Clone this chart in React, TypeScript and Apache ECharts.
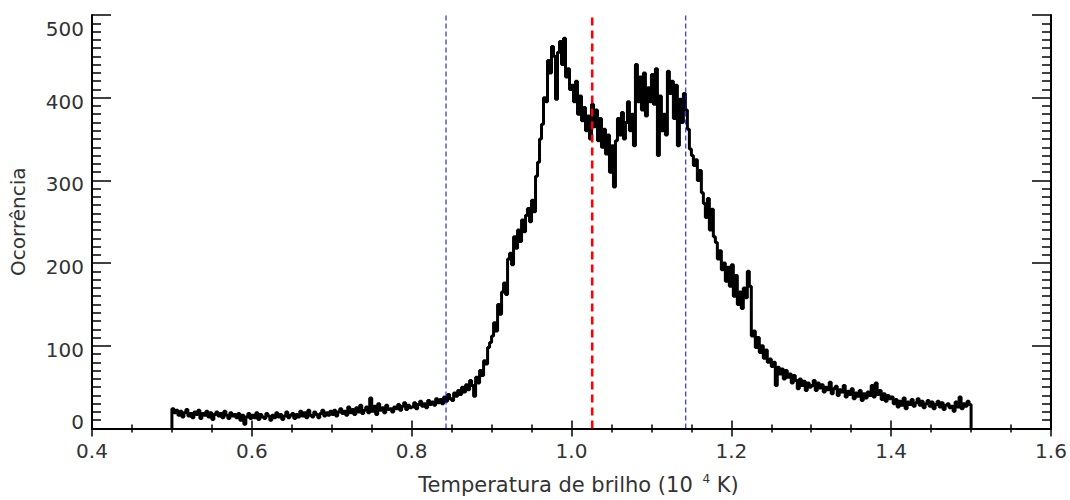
import React, { useEffect, useRef } from "react";
import * as echarts from "echarts";

// Histogram bins: left edge of first bin and bin width (10^4 K)
const binStart = 0.5;
const binWidth = 0.0025;

// Occurrence counts per bin, grouped by 0.1 segments of temperature (40 bins each)
const counts050 = [24, 19, 22, 16, 21, 14, 19, 23, 15, 18, 13, 20, 17, 22, 12, 18, 16, 21, 14, 19, 11, 17, 20, 15, 18, 13, 21, 16, 12, 19, 15, 17, 13, 18, 10, 16, 5, 14, 18, 12];
const counts060 = [16, 13, 19, 11, 17, 14, 12, 18, 15, 10, 16, 13, 19, 14, 17, 11, 15, 20, 13, 16, 18, 12, 17, 14, 21, 15, 19, 13, 22, 16, 14, 20, 17, 13, 18, 22, 15, 19, 16, 21];
const counts070 = [17, 22, 15, 20, 24, 18, 21, 16, 26, 19, 23, 17, 25, 20, 28, 18, 22, 26, 19, 37, 21, 27, 17, 30, 22, 25, 19, 28, 23, 24, 20, 26, 24, 29, 22, 27, 31, 23, 28, 25];
const counts080 = [26, 31, 24, 29, 33, 27, 30, 25, 34, 29, 32, 28, 36, 31, 35, 30, 38, 33, 41, 36, 34, 43, 39, 46, 41, 50, 44, 53, 47, 58, 52, 39, 62, 55, 70, 64, 82, 78, 98, 104];
const counts090 = [112, 128, 118, 150, 138, 165, 176, 162, 205, 212, 198, 232, 218, 240, 226, 252, 238, 258, 266, 250, 276, 262, 305, 322, 350, 368, 400, 395, 445, 430, 462, 450, 398, 455, 468, 440, 472, 425, 435, 410];
const counts100 = [415, 395, 420, 380, 402, 372, 388, 360, 378, 350, 392, 365, 385, 348, 375, 340, 362, 332, 355, 310, 342, 292, 348, 375, 355, 382, 350, 370, 395, 360, 380, 342, 440, 395, 425, 385, 430, 378, 412, 395];
const counts110 = [428, 392, 435, 330, 402, 360, 380, 355, 432, 405, 420, 375, 415, 342, 398, 370, 405, 385, 362, 338, 330, 318, 325, 300, 312, 285, 272, 255, 278, 240, 265, 232, 225, 205, 215, 192, 200, 178, 195, 172];
const counts120 = [198, 160, 185, 150, 165, 145, 170, 158, 190, 172, 112, 118, 98, 110, 92, 100, 85, 95, 80, 84, 75, 80, 52, 74, 66, 72, 60, 70, 62, 66, 55, 64, 58, 48, 60, 52, 57, 46, 55, 50];
const counts130 = [52, 58, 46, 55, 49, 53, 44, 50, 47, 56, 42, 48, 51, 40, 47, 44, 52, 38, 45, 41, 48, 36, 43, 39, 46, 34, 42, 37, 44, 40, 52, 38, 55, 41, 46, 35, 42, 33, 40, 36];
const counts140 = [38, 30, 35, 26, 33, 28, 37, 24, 32, 29, 35, 27, 31, 36, 28, 33, 25, 30, 34, 27, 32, 24, 29, 33, 26, 31, 23, 28, 30, 25, 27, 21, 32, 26, 38, 24, 30, 27, 33, 29];

// Vertical reference lines (10^4 K)
const lowerLine = 0.843;
const centerLine = 1.026;
const upperLine = 1.143;

// Axis ranges
const xMin = 0.4;
const xMax = 1.6;
const xStep = 0.2;
const yMin = 0;
const yMax = 500;
const yStep = 100;

const FONT = "DejaVu Sans";
const TEXT = "#333333";
const INK = "#000000";

export default function App() {
  const ref = useRef<HTMLDivElement>(null);

  useEffect(() => {
    if (!ref.current) return;
    const chart = echarts.init(ref.current, null, { renderer: "svg" });

    const counts = [
      ...counts050, ...counts060, ...counts070, ...counts080, ...counts090,
      ...counts100, ...counts110, ...counts120, ...counts130, ...counts140,
    ];
    const data: [number, number][] = [[binStart, 0]];
    counts.forEach((c, i) => {
      data.push([+(binStart + i * binWidth).toFixed(5), c]);
    });
    const binEnd = +(binStart + counts.length * binWidth).toFixed(5);
    data.push([binEnd, counts[counts.length - 1]]);
    data.push([binEnd, 0]);

    const tickStyle = { color: INK, width: 1.5 };
    const axisLine = { show: true, lineStyle: { color: INK, width: 2 } };

    const vLine = (x: number, color: string, width: number, dash: number[]) => ({
      type: "line",
      xAxisIndex: 0,
      yAxisIndex: 0,
      data: [[x, yMin], [x, yMax]],
      symbol: "none",
      silent: true,
      z: 3,
      lineStyle: { color, width, type: dash },
    });

    const option: any = {
      animation: false,
      backgroundColor: "#ffffff",
      grid: { left: 91, right: 19, top: 15, bottom: 71, containLabel: false },
      xAxis: [
        {
          type: "value",
          position: "bottom",
          min: xMin,
          max: xMax,
          interval: xStep,
          axisLine,
          axisTick: { show: true, inside: true, length: 8, lineStyle: tickStyle },
          minorTick: { show: true, splitNumber: 4, length: 4, lineStyle: tickStyle },
          splitLine: { show: false },
          axisLabel: {
            margin: 12,
            fontSize: 20,
            fontFamily: FONT,
            color: TEXT,
            formatter: (v: number) => v.toFixed(1),
          },
          name: "{a|Temperatura de brilho (10 }{s|4}{a| K)}",
          nameLocation: "middle",
          nameGap: 44,
          nameTextStyle: {
            padding: [0, 0, 0, 14],
            rich: {
              a: { fontSize: 21, fontFamily: FONT, color: TEXT, lineHeight: 24 },
              s: { fontSize: 12, fontFamily: FONT, color: TEXT, verticalAlign: "top", padding: [0, 0, 0, 3] },
            },
          },
        },
        {
          type: "value",
          position: "top",
          min: xMin,
          max: xMax,
          interval: xStep,
          axisLine,
          axisTick: { show: true, inside: true, length: 8, lineStyle: tickStyle },
          minorTick: { show: true, splitNumber: 4, length: 4, lineStyle: tickStyle },
          splitLine: { show: false },
          axisLabel: { show: false },
        },
      ],
      yAxis: [
        {
          type: "value",
          position: "left",
          min: yMin,
          max: yMax,
          interval: yStep,
          axisLine,
          axisTick: { show: true, inside: true, length: 19, lineStyle: tickStyle },
          minorTick: { show: true, splitNumber: 10, length: 9, lineStyle: tickStyle },
          splitLine: { show: false },
          axisLabel: {
            margin: 8,
            fontSize: 20,
            fontFamily: FONT,
            color: TEXT,
            formatter: (v: number) =>
              v === yMax ? `{t|${v}}` : v === yMin ? `{b|${v}}` : `{n|${v}}`,
            rich: {
              n: { fontSize: 20, fontFamily: FONT, color: TEXT, padding: [8, 0, 0, 0] },
              t: { fontSize: 20, fontFamily: FONT, color: TEXT, padding: [28, 0, 0, 0] },
              b: { fontSize: 20, fontFamily: FONT, color: TEXT, padding: [0, 0, 14, 0] },
            },
          },
          name: "Ocorrência",
          nameLocation: "middle",
          nameGap: 64,
          nameTextStyle: { fontSize: 20, fontFamily: FONT, color: TEXT },
        },
        {
          type: "value",
          position: "right",
          min: yMin,
          max: yMax,
          interval: yStep,
          axisLine,
          axisTick: { show: true, inside: true, length: 19, lineStyle: tickStyle },
          minorTick: { show: true, splitNumber: 10, length: 9, lineStyle: tickStyle },
          splitLine: { show: false },
          axisLabel: { show: false },
        },
      ],
      series: [
        {
          type: "line",
          xAxisIndex: 0,
          yAxisIndex: 0,
          data,
          step: "end",
          symbol: "none",
          silent: true,
          z: 2,
          lineStyle: { color: INK, width: 3 },
        },
        vLine(lowerLine, "#0000ee", 1, [5, 3]),
        vLine(centerLine, "#ff0000", 2.5, [8, 5]),
        vLine(upperLine, "#0000ee", 1, [5, 3]),
      ],
    };

    chart.setOption(option);
    return () => chart.dispose();
  }, []);

  return (
    <div
      ref={ref}
      style={{ position: "absolute", left: 0, top: 0, width: 1070, height: 500, background: "#fff" }}
    />
  );
}
